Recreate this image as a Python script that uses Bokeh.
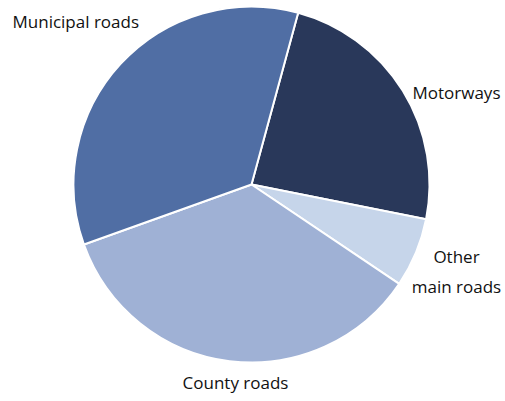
import math
from bokeh.plotting import figure
from bokeh.models import Range1d, ColumnDataSource
from bokeh.core.properties import value
from bokeh.embed import file_html
from bokeh.resources import INLINE

categories = ["Motorways", "Other main roads", "County roads", "Municipal roads"]
shares = [23.9, 6.3, 35.1, 34.7]
colors = ["#29385a", "#c6d5ea", "#9fb1d5", "#506ea4"]

W, H = 505, 401
p = figure(width=W, height=H, output_backend="svg", toolbar_location=None,
           x_range=Range1d(0, W), y_range=Range1d(401 - H, 401),
           min_border=0, outline_line_color=None)
p.axis.visible = False
p.grid.visible = False
p.background_fill_color = "white"

cx, cy = 251, 401 - 184
r = 178
offset = 15.2  # degrees clockwise from top where first slice starts
total = sum(shares)
starts, ends = [], []
acc = offset
for s in shares:
    a0 = math.radians(90 - acc)
    acc += s / total * 360
    a1 = math.radians(90 - acc)
    starts.append(a0)
    ends.append(a1)

src = ColumnDataSource(dict(start=starts, end=ends, color=colors, cat=categories))
p.wedge(x=cx, y=cy, radius=r, radius_units="screen", start_angle="start", end_angle="end",
        direction="clock", fill_color="color", line_color="white", line_width=2, source=src)

font = value("Open Sans")
label_pos = {
    "Municipal roads": (12, 401 - 21, "left"),
    "Motorways": (412, 401 - 92, "left"),
    "Other main roads": (456, 401 - 271, "center"),
    "County roads": (235, 401 - 382, "center"),
}
for c in categories:
    x, y, al = label_pos[c]
    txt = "Other\nmain roads" if c == "Other main roads" else c
    p.text(x=[x], y=[y], text=[txt], text_font=font, text_font_size="17px",
           text_align=al, text_baseline="middle", text_color="#111111",
           text_line_height=1.32)

open("out.html", "w").write(file_html(p, INLINE))
